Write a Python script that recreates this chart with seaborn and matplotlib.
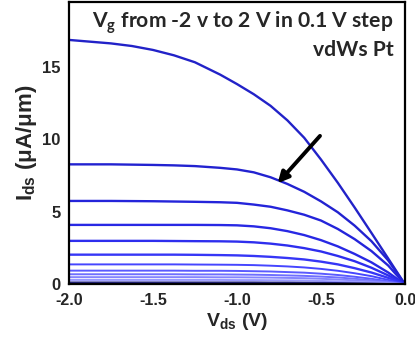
import matplotlib
matplotlib.use("Agg")
import numpy as np
import pandas as pd
import matplotlib.pyplot as plt
import seaborn as sns

# drain voltage grid (V) shared by all curves
vds = [-2.0, -1.75, -1.625, -1.5, -1.375, -1.25, -1.1, -1.0, -0.9, -0.8, -0.7, -0.6, -0.5, -0.4, -0.3, -0.2, -0.1, 0.0]

# drain current (uA/um), one list per gate step
c01 = [16.84, 16.60, 16.42, 16.15, 15.78, 15.30, 14.45, 13.80, 13.10, 12.30, 11.30, 10.10, 8.60, 7.00, 5.30, 3.55, 1.78, 0.0]
c02 = [8.27, 8.27, 8.25, 8.23, 8.20, 8.15, 8.03, 7.92, 7.72, 7.38, 6.92, 6.38, 5.72, 4.97, 4.05, 2.98, 1.65, 0.0]
c03 = [5.75, 5.75, 5.74, 5.73, 5.71, 5.69, 5.66, 5.62, 5.50, 5.35, 5.10, 4.80, 4.40, 3.82, 3.12, 2.30, 1.30, 0.0]
c04 = [4.10, 4.10, 4.10, 4.10, 4.10, 4.10, 4.09, 4.07, 4.00, 3.87, 3.67, 3.40, 3.05, 2.62, 2.10, 1.52, 0.82, 0.0]
c05 = [3.00, 3.00, 3.00, 3.00, 2.99, 2.98, 2.97, 2.95, 2.90, 2.81, 2.68, 2.50, 2.27, 1.96, 1.60, 1.15, 0.62, 0.0]
c06 = [2.05, 2.05, 2.05, 2.05, 2.05, 2.04, 2.02, 2.00, 1.96, 1.90, 1.82, 1.72, 1.57, 1.38, 1.12, 0.82, 0.45, 0.0]
c07 = [1.38, 1.38, 1.38, 1.38, 1.38, 1.37, 1.36, 1.35, 1.33, 1.29, 1.24, 1.17, 1.07, 0.94, 0.77, 0.57, 0.31, 0.0]
c08 = [0.95, 0.95, 0.95, 0.95, 0.95, 0.94, 0.94, 0.93, 0.91, 0.89, 0.85, 0.81, 0.74, 0.65, 0.53, 0.39, 0.21, 0.0]
c09 = [0.70, 0.70, 0.70, 0.70, 0.70, 0.69, 0.69, 0.68, 0.67, 0.65, 0.62, 0.59, 0.54, 0.48, 0.39, 0.29, 0.16, 0.0]
c10 = [0.50, 0.50, 0.50, 0.50, 0.50, 0.50, 0.49, 0.49, 0.48, 0.47, 0.45, 0.43, 0.39, 0.34, 0.28, 0.21, 0.11, 0.0]
c11 = [0.31, 0.31, 0.31, 0.31, 0.31, 0.31, 0.31, 0.30, 0.30, 0.29, 0.28, 0.27, 0.24, 0.21, 0.18, 0.13, 0.07, 0.0]
c12 = [0.14, 0.14, 0.14, 0.14, 0.14, 0.14, 0.14, 0.14, 0.14, 0.13, 0.13, 0.12, 0.11, 0.10, 0.08, 0.06, 0.03, 0.0]
c13 = [0.07, 0.07, 0.07, 0.07, 0.07, 0.07, 0.07, 0.07, 0.07, 0.07, 0.07, 0.06, 0.06, 0.05, 0.04, 0.03, 0.02, 0.0]
c14 = [0.02, 0.02, 0.02, 0.02, 0.02, 0.02, 0.02, 0.02, 0.02, 0.02, 0.02, 0.02, 0.02, 0.02, 0.01, 0.01, 0.01, 0.0]

curves = [c01, c02, c03, c04, c05, c06, c07, c08, c09, c10, c11, c12, c13, c14]
colors = ['#2222c8', '#2222d0', '#2424da', '#2828e4', '#2e2eee', '#3636f6',
          '#4646ff', '#5a5aff', '#6e6eff', '#8484ff', '#9a9aff',
          '#2a2a90', '#222270', '#1a1a50']

x_ticks = [-2.0, -1.5, -1.0, -0.5, 0.0]
y_ticks = [0, 5, 10, 15]

arrow_tail = (-0.506, 10.23)
arrow_head = (-0.758, 6.97)

rows = []
for i, c in enumerate(curves):
    for v, cur in zip(vds, c):
        rows.append({'Vds': v, 'Ids': cur, 'step': i})
df = pd.DataFrame(rows)

sns.set_style("white")
plt.rcParams.update({
    'font.family': ['Liberation Sans', 'DejaVu Sans'],
    'font.weight': 'bold',
    'axes.linewidth': 1.6,
    'axes.edgecolor': 'black',
})

fig = plt.figure(figsize=(4.15, 3.37), dpi=100)
ax = fig.add_axes([0.166, 0.156, 0.81, 0.838])

sns.lineplot(data=df, x='Vds', y='Ids', hue='step', palette=colors,
             linewidth=1.4, legend=False, ax=ax, sort=False)
# top curves a bit thicker, as in the figure
for line in ax.get_lines()[:6]:
    line.set_linewidth(1.7)

ax.set_xlim(-2.0, 0.0)
ax.set_ylim(0, 19.45)
ax.set_xticks(x_ticks)
ax.set_xticklabels([f"{t:.1f}" for t in x_ticks])
ax.set_yticks(y_ticks)
ax.tick_params(axis='y', direction='out', length=4, width=1.5, labelsize=12, pad=2)
ax.tick_params(axis='x', direction='in', length=2, width=1.0, labelsize=11.5, pad=6)
for lab in ax.get_xticklabels() + ax.get_yticklabels():
    lab.set_fontweight('bold')

ax.set_xlabel(r'V$_\mathregular{ds}$ (V)', fontsize=14, fontweight='bold', labelpad=2)
ax.set_ylabel(r'I$_\mathregular{ds}$ ($\mathregular{\mu}$A/$\mathregular{\mu}$m)',
              fontsize=16, fontweight='bold', labelpad=2)

ax.annotate('', xy=arrow_head, xytext=arrow_tail,
            arrowprops=dict(arrowstyle='-|>', color='black', lw=2.8,
                            mutation_scale=16, shrinkA=0, shrinkB=0))

ax.text(0.965, 0.975, r'V$_\mathregular{g}$ from -2 v to 2 V in 0.1 V step',
        transform=ax.transAxes, ha='right', va='top',
        fontsize=15.2, fontweight='bold', family=['Lato', 'DejaVu Sans'])
ax.text(0.965, 0.865, 'vdWs Pt', transform=ax.transAxes, ha='right', va='top',
        fontsize=15.2, fontweight='bold', family=['Lato', 'DejaVu Sans'])

fig.savefig('out.png', dpi=100)
